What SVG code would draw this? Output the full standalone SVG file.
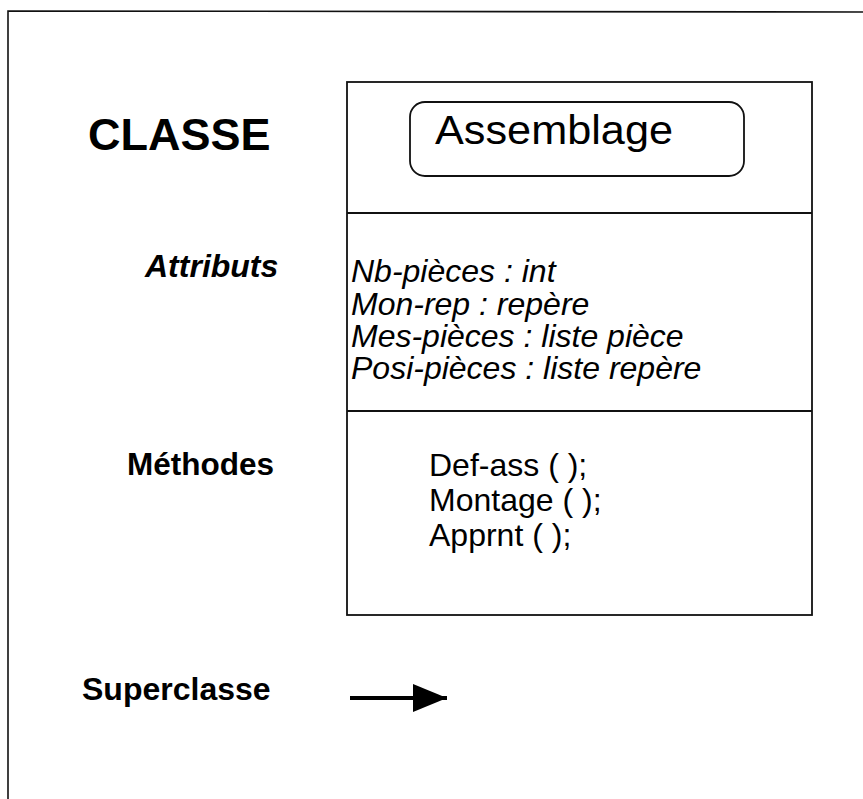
<svg xmlns="http://www.w3.org/2000/svg" width="863" height="799" viewBox="0 0 863 799">
  <defs>
    <style>
      .frame { fill: none; stroke: #111; stroke-width: 1.6; }
      .box { fill: none; stroke: #111; stroke-width: 1.8; }
      .label { font-family: "Liberation Sans", Arial, sans-serif; fill: #000; }
      .bold { font-weight: bold; }
      .ital { font-style: italic; }
    </style>
    <marker id="head" markerWidth="10" markerHeight="10" refX="0" refY="0" orient="auto" markerUnits="userSpaceOnUse" viewBox="0 -15 36 30" overflow="visible">
      <path d="M0,-14 L34,0 L0,14 Z" fill="#000"/>
    </marker>
  </defs>

  <rect x="0" y="0" width="863" height="799" fill="#fff"/>

  <!-- outer frame (runs off the right and bottom edges) -->
  <path class="frame" d="M8,799 L8,11 L863,12"/>

  <!-- legend labels -->
  <g id="legend">
    <text class="label bold" x="88" y="150" font-size="45">CLASSE</text>
    <text class="label bold ital" x="145" y="277" font-size="32">Attributs</text>
    <text class="label bold" x="127" y="475" font-size="31.5">Méthodes</text>
    <text class="label bold" x="82" y="700" font-size="32">Superclasse</text>
  </g>

  <!-- class box -->
  <g id="class-assemblage">
    <rect class="box" x="347" y="82" width="465" height="533"/>
    <line class="box" x1="347" y1="213" x2="812" y2="213"/>
    <line class="box" x1="347" y1="411" x2="812" y2="411"/>
    <rect class="box" x="410" y="102" width="334" height="74" rx="15" ry="15"/>
    <text class="label" x="435" y="144" font-size="41" textLength="238" lengthAdjust="spacingAndGlyphs">Assemblage</text>

    <g class="label ital" font-size="32">
      <text x="351" y="282">Nb-pièces : int</text>
      <text x="351" y="315">Mon-rep : repère</text>
      <text x="351" y="347">Mes-pièces : liste pièce</text>
      <text x="351" y="379">Posi-pièces : liste repère</text>
    </g>

    <g class="label" font-size="32">
      <text x="429" y="476">Def-ass ( );</text>
      <text x="429" y="511">Montage ( );</text>
      <text x="429" y="546">Apprnt ( );</text>
    </g>
  </g>

  <!-- connectors -->
  <g id="connectors">
    <path d="M350,698 L447,698" stroke="#000" stroke-width="4" fill="none"/>
    <path d="M413,684 L447,698 L413,712 Z" fill="#000"/>
  </g>
</svg>
